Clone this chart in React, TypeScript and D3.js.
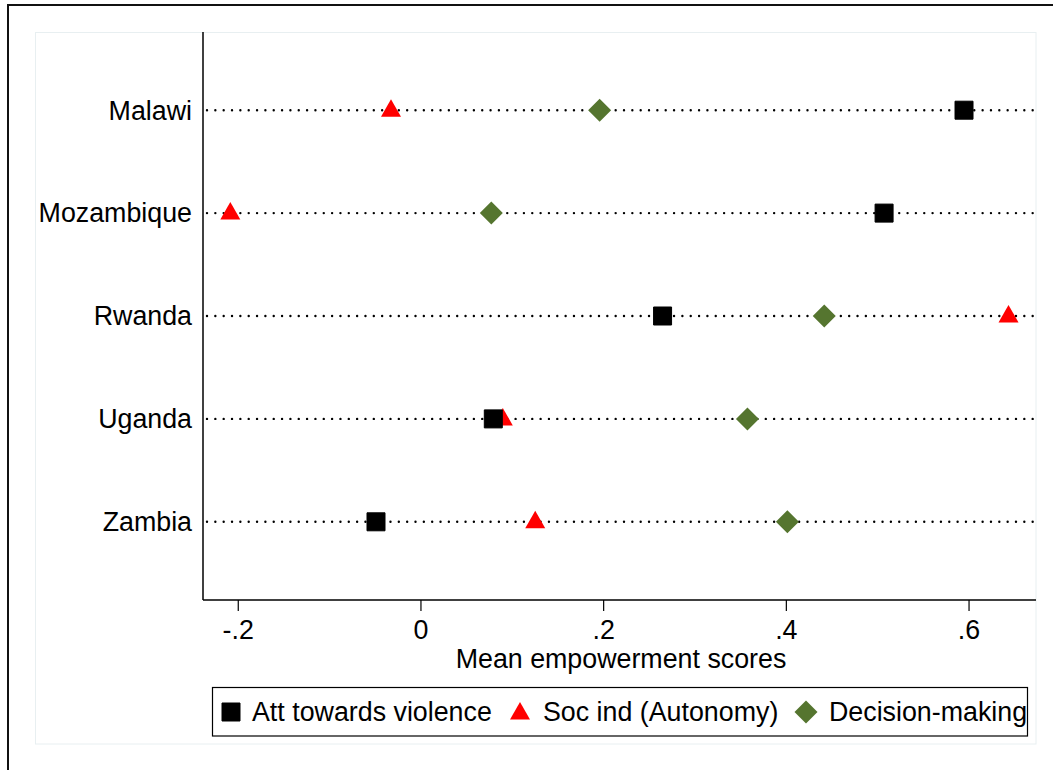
import React from "react";
import * as d3 from "d3";

// Countries, top to bottom
const countries = ["Malawi", "Mozambique", "Rwanda", "Uganda", "Zambia"];

// Mean empowerment scores per country
const attViolence = [0.5945, 0.507, 0.2645, 0.0792, -0.0492];
const socAutonomy = [-0.0328, -0.2087, 0.6432, 0.0896, 0.1251];
const decisionMaking = [0.1956, 0.077, 0.4415, 0.3574, 0.4011];

const xTicks = [-0.2, 0, 0.2, 0.4, 0.6];
const xTickLabels = ["-.2", "0", ".2", ".4", ".6"];

const legendLabels = ["Att towards violence", "Soc ind (Autonomy)", "Decision-making"];

const W = 1053;
const H = 770;
const plotLeft = 203;
const plotRight = 1036;
const plotTop = 32;
const plotBottom = 600;
const FONT = "'Liberation Sans', Arial, sans-serif";
const FS = 26.8;
const GREEN = "#55752f";
const RED = "#ff0000";

const x = d3.scaleLinear().domain([-0.2386, 0.6733]).range([plotLeft, plotRight]);
const y = d3
  .scaleLinear()
  .domain([1 - 0.76, countries.length + 0.76])
  .range([plotTop, plotBottom]);

const squarePath = (cx: number, cy: number) => {
  const s = 9;
  return `M${cx - s},${cy - s}h${2 * s}v${2 * s}h${-2 * s}Z`;
};
const trianglePath = (cx: number, cy: number) =>
  `M${cx},${cy - 11}L${cx + 10},${cy + 6.5}L${cx - 10},${cy + 6.5}Z`;
const diamondPath = (cx: number, cy: number) =>
  `M${cx},${cy - 11.5}L${cx + 11.5},${cy}L${cx},${cy + 11.5}L${cx - 11.5},${cy}Z`;

export default function App() {
  return (
    <svg
      width={W}
      height={H}
      style={{ position: "fixed", left: 0, top: 0, background: "#fff" }}
      fontFamily={FONT}
    >
      {/* outer frame */}
      <rect x={8} y={5} width={W} height={H} fill="none" stroke="#111" strokeWidth={2} />
      {/* graph region */}
      <rect
        x={35.5}
        y={32.5}
        width={plotRight - 35.5}
        height={744 - 32.5}
        fill="#fff"
        stroke="#e8eff1"
        strokeWidth={1}
      />

      {/* dotted guide lines */}
      {countries.map((c, i) => (
        <line
          key={c}
          x1={plotLeft + 4}
          x2={plotRight}
          y1={y(i + 1)}
          y2={y(i + 1)}
          stroke="#000"
          strokeWidth={2.4}
          strokeLinecap="round"
          strokeDasharray="0.01 8.33"
        />
      ))}

      {/* axes */}
      <line x1={plotLeft} x2={plotLeft} y1={plotTop} y2={plotBottom} stroke="#000" strokeWidth={1.5} />
      <line x1={plotLeft} x2={plotRight} y1={plotBottom} y2={plotBottom} stroke="#000" strokeWidth={1.5} />
      {xTicks.map((t, i) => (
        <g key={t}>
          <line x1={x(t)} x2={x(t)} y1={plotBottom} y2={plotBottom + 11} stroke="#000" strokeWidth={1.2} />
          <text x={x(t)} y={639} textAnchor="middle" fontSize={FS}>
            {xTickLabels[i]}
          </text>
        </g>
      ))}
      <text x={621} y={668} textAnchor="middle" fontSize={FS}>
        Mean empowerment scores
      </text>

      {countries.map((c, i) => (
        <text key={c} x={192} y={y(i + 1)} dy="0.35em" textAnchor="end" fontSize={FS}>
          {c}
        </text>
      ))}

      {/* markers */}
      {socAutonomy.map((v, i) => (
        <path key={"s" + i} d={trianglePath(x(v), y(i + 1))} fill={RED} />
      ))}
      {decisionMaking.map((v, i) => (
        <path key={"d" + i} d={diamondPath(x(v), y(i + 1))} fill={GREEN} />
      ))}
      {attViolence.map((v, i) => (
        <path key={"a" + i} d={squarePath(x(v), y(i + 1))} fill="#000" stroke="#000" strokeWidth={1} strokeLinejoin="round" />
      ))}

      {/* legend */}
      <rect x={212.5} y={687.5} width={815} height={48.5} fill="#fff" stroke="#000" strokeWidth={1.2} />
      <path d={squarePath(231, 712)} fill="#000" stroke="#000" strokeWidth={1} strokeLinejoin="round" />
      <text x={252} y={712} dy="0.35em" fontSize={FS}>
        {legendLabels[0]}
      </text>
      <path d={trianglePath(520, 713)} fill={RED} />
      <text x={543} y={712} dy="0.35em" fontSize={FS}>
        {legendLabels[1]}
      </text>
      <path d={diamondPath(806, 712)} fill={GREEN} />
      <text x={829} y={712} dy="0.35em" fontSize={FS}>
        {legendLabels[2]}
      </text>
    </svg>
  );
}
